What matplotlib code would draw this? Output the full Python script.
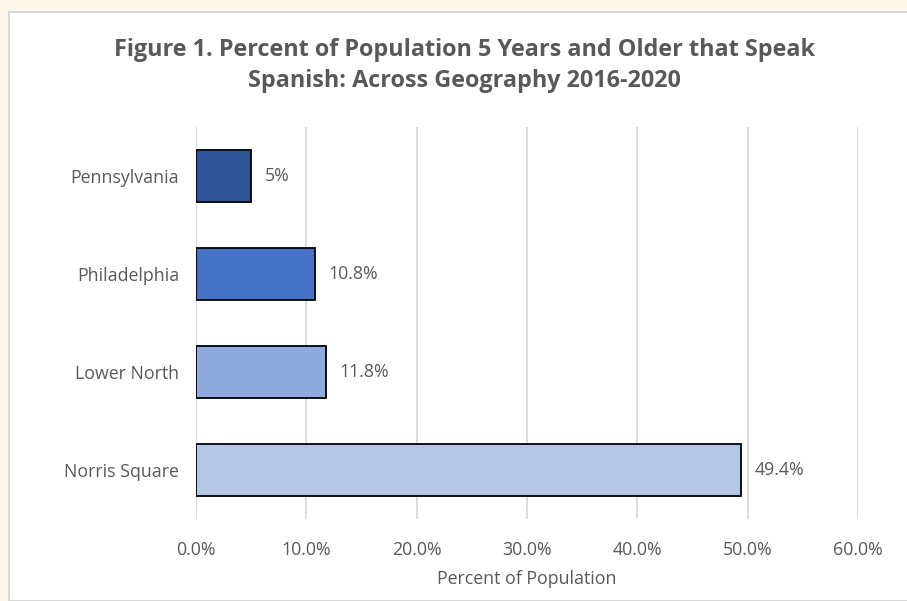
import matplotlib.pyplot as plt
from matplotlib.patches import Rectangle
from matplotlib.ticker import FuncFormatter

# Data.
places = ['Pennsylvania', 'Philadelphia', 'Lower North', 'Norris Square']
percents = [5.0, 10.8, 11.8, 49.4]
labels = ['5%', '10.8%', '11.8%', '49.4%']
barColors = ['#2F5597', '#4472C4', '#8FAADC', '#B4C7E7']
xTicks = [0, 10, 20, 30, 40, 50, 60]

textColor = '#595959'
plt.rcParams['font.family'] = ['Open Sans', 'DejaVu Sans']

fig = plt.figure(figsize=(9.07, 6.01), dpi=100)
fig.patch.set_facecolor('#FDF6EB')

# White chart panel with light border, drawn behind the axes.
fig.patches.append(Rectangle((9 / 907, 0), 1, 1 - 12 / 601, transform=fig.transFigure,
                             facecolor='white', edgecolor='#D9D9D9', linewidth=1.5, zorder=-5))

ax = fig.add_axes([196 / 907, 1 - 519 / 601, 662 / 907, 392 / 601])
ax.set_facecolor('white')

yPos = list(range(len(places)))
ax.barh(yPos, percents, height=0.53, color=barColors, edgecolor='black', linewidth=1.3, zorder=3)
for y, v, lab in zip(yPos, percents, labels):
    ax.text(v + 1.2, y, lab, va='center', ha='left', fontsize=12.8, color=textColor)

ax.set_ylim(len(places) - 0.5, -0.5)
ax.set_yticks(yPos)
ax.set_yticklabels(places, fontsize=12.8, color=textColor)
ax.set_xlim(0, 60)
ax.set_xticks(xTicks)
ax.xaxis.set_major_formatter(FuncFormatter(lambda v, p: '{:.1f}%'.format(v)))
ax.tick_params(axis='x', labelsize=12.8, colors=textColor, length=0, pad=16)
ax.tick_params(axis='y', length=0, pad=12)
ax.grid(axis='x', color='#D9D9D9', linewidth=1.3, zorder=0)
for side in ['top', 'right', 'bottom', 'left']:
    ax.spines[side].set_visible(False)

ax.set_xlabel('Percent of Population', fontsize=12.8, color=textColor, labelpad=8)

fig.text(464 / 907, 1 - 50 / 601, 'Figure 1. Percent of Population 5 Years and Older that Speak',
         ha='center', va='center', fontsize=16.8, fontweight='bold', color=textColor)
fig.text(464 / 907, 1 - 81 / 601, 'Spanish: Across Geography 2016-2020',
         ha='center', va='center', fontsize=16.8, fontweight='bold', color=textColor)

fig.savefig('out.png', dpi=100, facecolor=fig.get_facecolor())
